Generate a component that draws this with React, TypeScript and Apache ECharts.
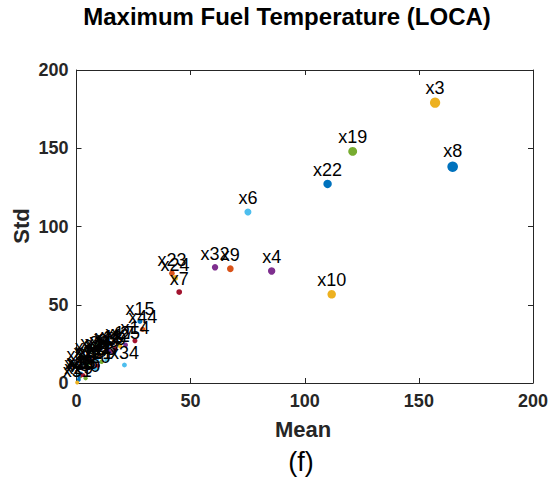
import React, { useEffect, useRef } from "react";
import * as echarts from "echarts";

const names = [
  "x1", "x2", "x3", "x4", "x5", "x6", "x7", "x8", "x9", "x10",
  "x11", "x12", "x13", "x14", "x15", "x16", "x17", "x18", "x19", "x20",
  "x21", "x22", "x23", "x24", "x25", "x26", "x27", "x28", "x29", "x30",
  "x31", "x32", "x33", "x34", "x35", "x36", "x37", "x38", "x39", "x40",
  "x41", "x42", "x43", "x44",
];

const meanValues = [
  3.4, 8.0, 157.1, 85.5, 1.5, 75.1, 45.0, 164.8, 67.4, 111.8,
  14.0, 5.0, 2.0, 25.6, 27.8, 10.0, 19.0, 13.9, 121.0, 8.5,
  9.3, 110.0, 41.8, 43.2, 21.5, 11.0, 13.2, 2.0, 1.0, 7.0,
  0.3, 60.7, 12.0, 21.0, 3.0, 2.0, 5.6, 8.0, 15.5, 4.0,
  9.0, 17.0, 1.0, 29.0,
];

const stdValues = [
  12.6, 16.0, 179.1, 71.6, 4.0, 109.3, 58.1, 138.2, 73.0, 56.7,
  21.5, 12.0, 6.0, 27.0, 39.5, 18.0, 23.8, 21.1, 148.0, 8.8,
  11.1, 127.2, 70.1, 67.1, 24.3, 13.6, 14.7, 5.0, 2.0, 13.0,
  0.3, 73.9, 19.0, 11.5, 5.0, 10.0, 15.0, 18.0, 20.0, 3.0,
  15.0, 22.0, 4.5, 34.3,
];

const axisMin = 0;
const axisMax = 200;
const axisStep = 50;

const palette = [
  "#0072BD", "#D95319", "#EDB120", "#7E2F8E", "#77AC30", "#4DBEEE", "#A2142F",
];

const FONT = "'Liberation Sans', Arial, Helvetica, sans-serif";
const AXIS_COLOR = "#262626";

export default function App() {
  const ref = useRef<HTMLDivElement>(null);

  useEffect(() => {
    if (!ref.current) return;
    const chart = echarts.init(ref.current, null, { renderer: "svg" });

    const data = names.map((n, i) => ({ name: n, value: [meanValues[i], stdValues[i]] }));

    const baseAxis = {
      type: "value" as const,
      min: axisMin,
      max: axisMax,
      interval: axisStep,
      splitLine: { show: false },
      axisLine: { show: true, onZero: false, lineStyle: { color: AXIS_COLOR, width: 1 } },
      axisTick: { show: true, inside: true, length: 5, lineStyle: { color: AXIS_COLOR, width: 1 } },
    };

    const option: any = {
      animation: false,
      backgroundColor: "#ffffff",
      grid: { left: 76.5, right: 22, top: 70, bottom: 101, containLabel: false },
      xAxis: [
        {
          ...baseAxis,
          position: "bottom",
          axisLabel: { color: AXIS_COLOR, fontWeight: "bold", fontSize: 18, fontFamily: FONT, margin: 9 },
        },
        { ...baseAxis, position: "top", axisLabel: { show: false } },
      ],
      yAxis: [
        {
          ...baseAxis,
          position: "left",
          axisLabel: { color: AXIS_COLOR, fontWeight: "bold", fontSize: 18, fontFamily: FONT, margin: 8 },
        },
        { ...baseAxis, position: "right", axisLabel: { show: false } },
      ],
      series: [
        {
          type: "scatter",
          xAxisIndex: 0,
          yAxisIndex: 0,
          data,
          symbol: "circle",
          symbolSize: (val: number[]) => 4 + val[0] / 25,
          itemStyle: {
            color: (p: any) => palette[p.dataIndex % palette.length],
            opacity: 1,
          },
          label: {
            show: true,
            formatter: "{b}",
            position: "top",
            distance: 1,
            color: "#000000",
            fontSize: 18,
            fontFamily: FONT,
          },
          labelLayout: { hideOverlap: false },
          emphasis: { disabled: true },
        },
      ],
      graphic: [
        {
          type: "text",
          x: 287,
          y: 16,
          style: {
            text: "Maximum Fuel Temperature (LOCA)",
            fill: "#000000",
            font: `bold 24px ${FONT}`,
            align: "center",
            verticalAlign: "middle",
          },
        },
        {
          type: "text",
          x: 303,
          y: 429,
          style: {
            text: "Mean",
            fill: AXIS_COLOR,
            font: `bold 22px ${FONT}`,
            align: "center",
            verticalAlign: "middle",
          },
        },
        {
          type: "text",
          x: 21,
          y: 226,
          rotation: Math.PI / 2,
          style: {
            text: "Std",
            fill: AXIS_COLOR,
            font: `bold 22px ${FONT}`,
            align: "center",
            verticalAlign: "middle",
          },
        },
        {
          type: "text",
          x: 301,
          y: 462,
          style: {
            text: "(f)",
            fill: "#000000",
            font: `27px ${FONT}`,
            align: "center",
            verticalAlign: "middle",
          },
        },
      ],
    };

    chart.setOption(option);
    return () => chart.dispose();
  }, []);

  return <div ref={ref} style={{ width: 555, height: 484, position: "absolute", left: 0, top: 0 }} />;
}
